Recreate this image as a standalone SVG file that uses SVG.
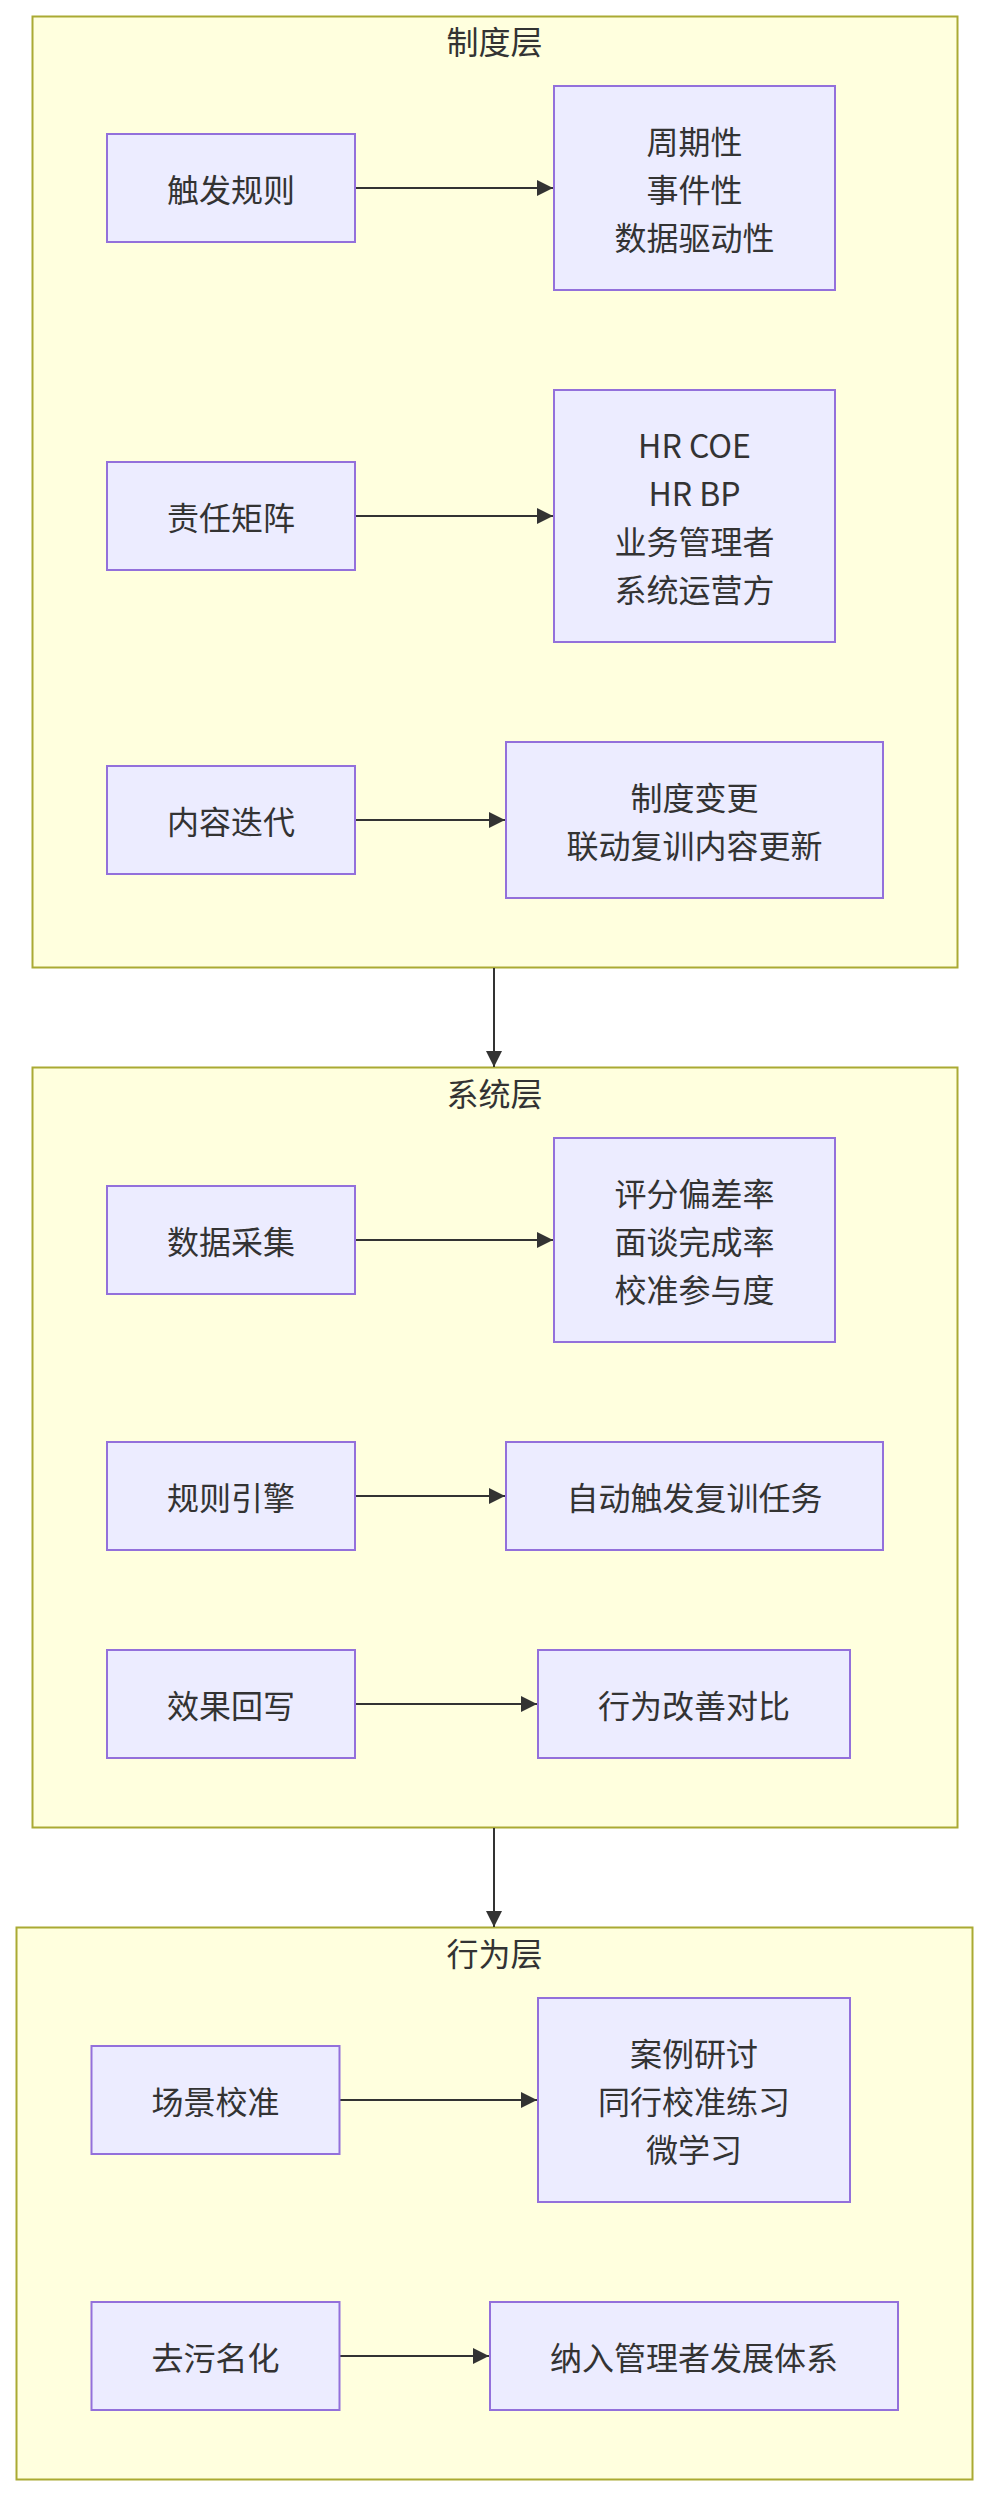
<svg xmlns="http://www.w3.org/2000/svg" width="988" height="2496" viewBox="0 0 988 2496">
<style>
.cluster rect{fill:#ffffde;stroke:#aaaa33;stroke-width:2}
.node rect{fill:#ECECFF;stroke:#9370DB;stroke-width:2}
text{font-family:"Noto Sans CJK SC","Liberation Sans",sans-serif;font-size:32px;fill:#333333;text-anchor:middle;dominant-baseline:central}
.edge{stroke:#333333;stroke-width:2;fill:none}
</style>
<defs>
<marker id="arrow" markerUnits="userSpaceOnUse" markerWidth="16" markerHeight="16" refX="16" refY="8" orient="auto">
<path d="M0,0 L16,8 L0,16 z" fill="#333333"/>
</marker>
</defs>
<rect width="988" height="2496" fill="#ffffff"/>
<g id="cluster-zhidu" class="cluster"><rect x="32.5" y="16.5" width="925" height="951"/><text x="494.5" y="39.5">制度层</text></g>
<g id="cluster-xitong" class="cluster"><rect x="32.5" y="1067.5" width="925" height="760"/><text x="494.5" y="1091.5">系统层</text></g>
<g id="cluster-xingwei" class="cluster"><rect x="16.5" y="1927.5" width="956" height="552"/><text x="494.5" y="1952">行为层</text></g>

<g id="connectors">
<line class="edge" x1="355" y1="188" x2="553" y2="188" marker-end="url(#arrow)"/>
<line class="edge" x1="355" y1="516" x2="553" y2="516" marker-end="url(#arrow)"/>
<line class="edge" x1="355" y1="820" x2="505" y2="820" marker-end="url(#arrow)"/>
<line class="edge" x1="355" y1="1240" x2="553" y2="1240" marker-end="url(#arrow)"/>
<line class="edge" x1="355" y1="1496" x2="505" y2="1496" marker-end="url(#arrow)"/>
<line class="edge" x1="355" y1="1704" x2="537" y2="1704" marker-end="url(#arrow)"/>
<line class="edge" x1="339.5" y1="2100" x2="537" y2="2100" marker-end="url(#arrow)"/>
<line class="edge" x1="339.5" y1="2356" x2="489" y2="2356" marker-end="url(#arrow)"/>
<line class="edge" x1="494" y1="968" x2="494" y2="1067" marker-end="url(#arrow)"/>
<line class="edge" x1="494" y1="1828" x2="494" y2="1927" marker-end="url(#arrow)"/>
</g>

<g id="n-chufa" class="node"><rect x="107" y="134" width="248" height="108"/><text x="231" y="188">触发规则</text></g>
<g id="n-zhouqi" class="node"><rect x="554" y="86" width="281" height="204"/><text x="694.5" y="140">周期性</text><text x="694.5" y="188">事件性</text><text x="694.5" y="236">数据驱动性</text></g>
<g id="n-zeren" class="node"><rect x="107" y="462" width="248" height="108"/><text x="231" y="516">责任矩阵</text></g>
<g id="n-hr" class="node"><rect x="554" y="390" width="281" height="252"/><text x="694.5" y="444">HR COE</text><text x="694.5" y="492">HR BP</text><text x="694.5" y="540">业务管理者</text><text x="694.5" y="588">系统运营方</text></g>
<g id="n-neirong" class="node"><rect x="107" y="766" width="248" height="108"/><text x="231" y="820">内容迭代</text></g>
<g id="n-zhidubiangeng" class="node"><rect x="506" y="742" width="377" height="156"/><text x="694.5" y="796">制度变更</text><text x="694.5" y="844">联动复训内容更新</text></g>
<g id="n-shuju" class="node"><rect x="107" y="1186" width="248" height="108"/><text x="231" y="1240">数据采集</text></g>
<g id="n-pingfen" class="node"><rect x="554" y="1138" width="281" height="204"/><text x="694.5" y="1192">评分偏差率</text><text x="694.5" y="1240">面谈完成率</text><text x="694.5" y="1288">校准参与度</text></g>
<g id="n-guize" class="node"><rect x="107" y="1442" width="248" height="108"/><text x="231" y="1496">规则引擎</text></g>
<g id="n-zidong" class="node"><rect x="506" y="1442" width="377" height="108"/><text x="694.5" y="1496">自动触发复训任务</text></g>
<g id="n-xiaoguo" class="node"><rect x="107" y="1650" width="248" height="108"/><text x="231" y="1704">效果回写</text></g>
<g id="n-xingwei" class="node"><rect x="538" y="1650" width="312" height="108"/><text x="694" y="1704">行为改善对比</text></g>
<g id="n-changjing" class="node"><rect x="91.5" y="2046" width="248" height="108"/><text x="215.5" y="2100">场景校准</text></g>
<g id="n-anli" class="node"><rect x="538" y="1998" width="312" height="204"/><text x="694" y="2052">案例研讨</text><text x="694" y="2100">同行校准练习</text><text x="694" y="2148">微学习</text></g>
<g id="n-quwu" class="node"><rect x="91.5" y="2302" width="248" height="108"/><text x="215.5" y="2356">去污名化</text></g>
<g id="n-naru" class="node"><rect x="490" y="2302" width="408" height="108"/><text x="694" y="2356">纳入管理者发展体系</text></g>
</svg>
